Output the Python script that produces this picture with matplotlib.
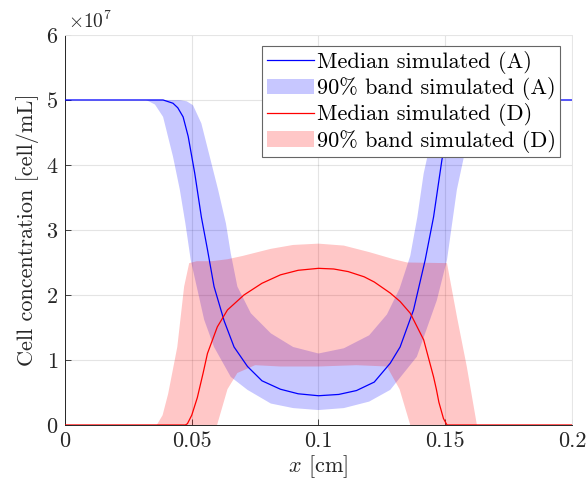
import numpy as np
import matplotlib
matplotlib.use("Agg")
import matplotlib.pyplot as plt
from matplotlib.patches import Patch
from matplotlib.lines import Line2D

plt.rcParams["font.family"] = ["cmr10", "DejaVu Serif"]
plt.rcParams["mathtext.fontset"] = "cm"
plt.rcParams["axes.formatter.use_mathtext"] = True

# values in units of 1e7 cell/mL
# median simulated (A)
xa_med = [0, 0.0387, 0.0426, 0.0445, 0.0466, 0.0486, 0.0512, 0.0538, 0.0562, 0.0588,
          0.0628, 0.0667, 0.072, 0.0777, 0.085, 0.092, 0.1, 0.108, 0.115, 0.122,
          0.1283, 0.1322, 0.1375, 0.1421, 0.1454, 0.1487, 0.151, 0.1535, 0.155, 0.157,
          0.159, 0.161, 0.2]
ya_med = [5, 5, 4.95, 4.88, 4.74, 4.44, 3.87, 3.2, 2.7, 2.13,
          1.6, 1.2, 0.9, 0.68, 0.55, 0.48, 0.45, 0.47, 0.53, 0.66,
          0.95, 1.2, 1.77, 2.54, 3.2, 4.08, 4.5, 4.8, 4.9, 4.96,
          4.99, 5, 5]

# 90% band simulated (A): upper and lower edges
xa_hi = [0, 0.045, 0.048, 0.0505, 0.0538, 0.0571, 0.0604, 0.0635, 0.0654, 0.068,
         0.0733, 0.0812, 0.09, 0.1, 0.11, 0.12, 0.127, 0.132, 0.1362, 0.139,
         0.1415, 0.1445, 0.148, 0.152, 0.156, 0.2]
ya_hi = [5, 5, 4.98, 4.92, 4.64, 4.13, 3.62, 3.1, 2.64, 2.13,
         1.72, 1.41, 1.2, 1.1, 1.18, 1.38, 1.7, 2.1, 2.6, 3.2,
         3.87, 4.4, 4.85, 4.98, 5, 5]
xa_lo = [0, 0.032, 0.0355, 0.0387, 0.0426, 0.0453, 0.0475, 0.0496, 0.0549, 0.0588,
         0.0654, 0.072, 0.0812, 0.09, 0.1, 0.11, 0.12, 0.1283, 0.1388, 0.1467,
         0.1507, 0.1546, 0.1574, 0.1613, 0.1645, 0.168, 0.2]
ya_lo = [5, 5, 4.93, 4.74, 4.13, 3.62, 3.1, 2.54, 1.62, 1.2,
         0.74, 0.54, 0.33, 0.26, 0.23, 0.26, 0.36, 0.54, 1.05, 1.92,
         2.54, 3.62, 4.13, 4.74, 4.93, 5, 5]

# median simulated (D)
xd_med = [0, 0.0475, 0.0483, 0.05, 0.0522, 0.0545, 0.0562, 0.0601, 0.0641, 0.0706,
          0.0777, 0.085, 0.092, 0.1, 0.106, 0.1117, 0.118, 0.122, 0.1283, 0.1322,
          0.1362, 0.1415, 0.1454, 0.1465, 0.1475, 0.1493, 0.1507, 0.2]
yd_med = [0, 0, 0.02, 0.15, 0.42, 0.8, 1.1, 1.51, 1.77, 2.0,
          2.18, 2.31, 2.38, 2.41, 2.4, 2.36, 2.28, 2.2, 2.03, 1.9,
          1.72, 1.31, 0.74, 0.55, 0.35, 0.1, 0, 0]

# 90% band simulated (D): upper and lower edges
xd_hi = [0, 0.0362, 0.0385, 0.0407, 0.0443, 0.047, 0.049, 0.052, 0.058, 0.0641,
         0.07, 0.0771, 0.0812, 0.09, 0.1, 0.11, 0.12, 0.1297, 0.135, 0.1507,
         0.1546, 0.1585, 0.1625, 0.2]
yd_hi = [0, 0, 0.15, 0.48, 1.2, 2.13, 2.49, 2.52, 2.52, 2.55,
         2.6, 2.67, 2.71, 2.77, 2.79, 2.76, 2.66, 2.55, 2.5, 2.49,
         1.67, 0.9, 0, 0]
xd_lo = [0, 0.06, 0.0641, 0.068, 0.075, 0.085, 0.1, 0.115, 0.127, 0.132,
         0.1362, 0.2]
yd_lo = [0, 0, 0.55, 0.8, 0.92, 0.9, 0.9, 0.92, 0.9, 0.55,
         0, 0]

labels = ["Median simulated (A)", "90% band simulated (A)",
          "Median simulated (D)", "90% band simulated (D)"]

fig = plt.figure(figsize=(5.87, 4.92), dpi=100)
ax = fig.add_axes([0.1107, 0.1362, 0.8637, 0.7927])

band_alpha = 0.22
ax.fill(np.r_[xa_lo, xa_hi[::-1]], np.r_[ya_lo, ya_hi[::-1]],
        color="b", alpha=band_alpha, lw=0, zorder=2)
ax.plot(xa_med, ya_med, color="b", lw=0.9, zorder=3)
ax.fill(np.r_[xd_lo, xd_hi[::-1]], np.r_[yd_lo, yd_hi[::-1]],
        color="r", alpha=band_alpha, lw=0, zorder=2)
ax.plot(xd_med, yd_med, color="r", lw=0.9, zorder=3)

ax.set_xlim(0, 0.2)
ax.set_ylim(0, 6)
ax.set_xticks([0, 0.05, 0.1, 0.15, 0.2])
ax.set_xticklabels(["0", "0.05", "0.1", "0.15", "0.2"])
ax.set_yticks(range(7))
ax.grid(True, color="#262626", alpha=0.12, lw=0.8)
ax.set_axisbelow(True)
ax.tick_params(direction="in", length=4, width=0.6, labelsize=16, colors="#262626", pad=5)
for s in ["left", "bottom"]:
    ax.spines[s].set_color("#262626")
    ax.spines[s].set_linewidth(0.7)
for s in ["top", "right"]:
    ax.spines[s].set_color("#e6e6e6")
    ax.spines[s].set_linewidth(0.7)

ax.set_xlabel(r"$x$ [cm]", fontsize=16, color="#262626", labelpad=1)
ax.set_ylabel("Cell concentration [cell/mL]", fontsize=16, color="#262626", labelpad=5)
ax.text(0.005, 1.008, r"$\times10^7$", transform=ax.transAxes, fontsize=14,
        color="#262626", ha="left", va="bottom")

handles = [Line2D([], [], color="b", lw=0.9),
           Patch(facecolor="b", alpha=band_alpha, lw=0),
           Line2D([], [], color="r", lw=0.9),
           Patch(facecolor="r", alpha=band_alpha, lw=0)]
leg = ax.legend(handles, labels, loc="upper right", bbox_to_anchor=(0.977, 0.971),
                borderaxespad=0, fontsize=16, frameon=True, fancybox=False,
                framealpha=1, edgecolor="#666666", handlelength=2.1,
                handletextpad=0.15, labelspacing=0.15, borderpad=0.2)
leg.get_frame().set_linewidth(0.8)

fig.savefig("out.png", dpi=100)
